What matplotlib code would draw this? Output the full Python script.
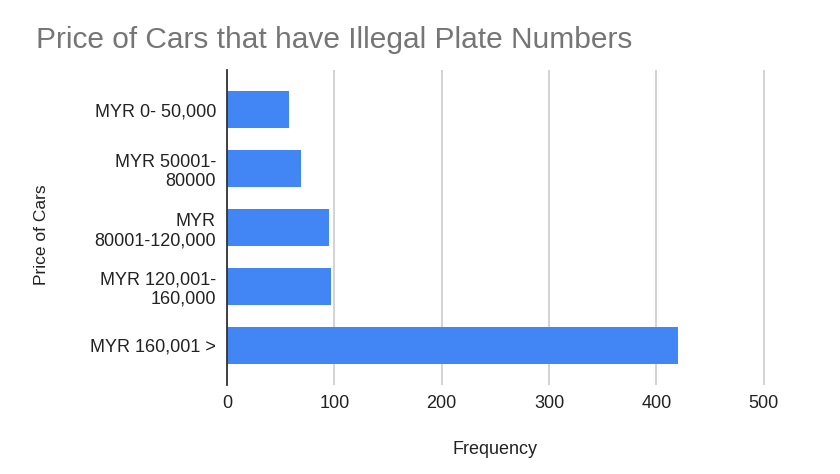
import matplotlib
matplotlib.use("Agg")
import matplotlib.pyplot as plt

categories = ["MYR 0- 50,000", "MYR 50001-\n80000", "MYR\n80001-120,000",
              "MYR 120,001-\n160,000", "MYR 160,001 >"]
frequency = [58, 69, 95, 97, 420]
xticks = [0, 100, 200, 300, 400, 500]

plt.rcParams['font.family'] = ['Liberation Sans', 'DejaVu Sans']
fig = plt.figure(figsize=(8.4, 4.74), dpi=100)
ax = fig.add_axes([227/840, 1-385/474, (766-227)/840, (385-70)/474])

ypos = list(range(len(categories)))
ax.barh(ypos, frequency, height=0.63, color="#4285F4", zorder=3)
ax.set_ylim(4.68, -0.68)
ax.set_xlim(0, 502)
ax.set_xticks(xticks)
ax.set_xticklabels([str(t) for t in xticks])
ax.set_yticks(ypos)
ax.set_yticklabels(categories, multialignment='right')
ax.tick_params(axis='both', length=0, labelsize=13, colors="#222222")
ax.tick_params(axis='x', pad=7)
ax.tick_params(axis='y', pad=8)
ax.grid(axis='x', color="#cccccc", linewidth=1.2, zorder=0)
for s in ['top', 'right', 'bottom']:
    ax.spines[s].set_visible(False)
ax.spines['left'].set_color("#333333")
ax.spines['left'].set_linewidth(1.3)
ax.spines['left'].set_zorder(4)

fig.text(36/840, 1-47.5/474, "Price of Cars that have Illegal Plate Numbers",
         fontsize=21.5, color="#757575", va='baseline', ha='left')
fig.text(495/840, 1-454/474, "Frequency", fontsize=13, color="#222222",
         ha='center', va='baseline')
fig.text(42/840, 1-235/474, "Price of Cars", fontsize=12.5, color="#222222",
         ha='center', va='center', rotation=90)

fig.savefig("out.png", dpi=100, facecolor="white")
